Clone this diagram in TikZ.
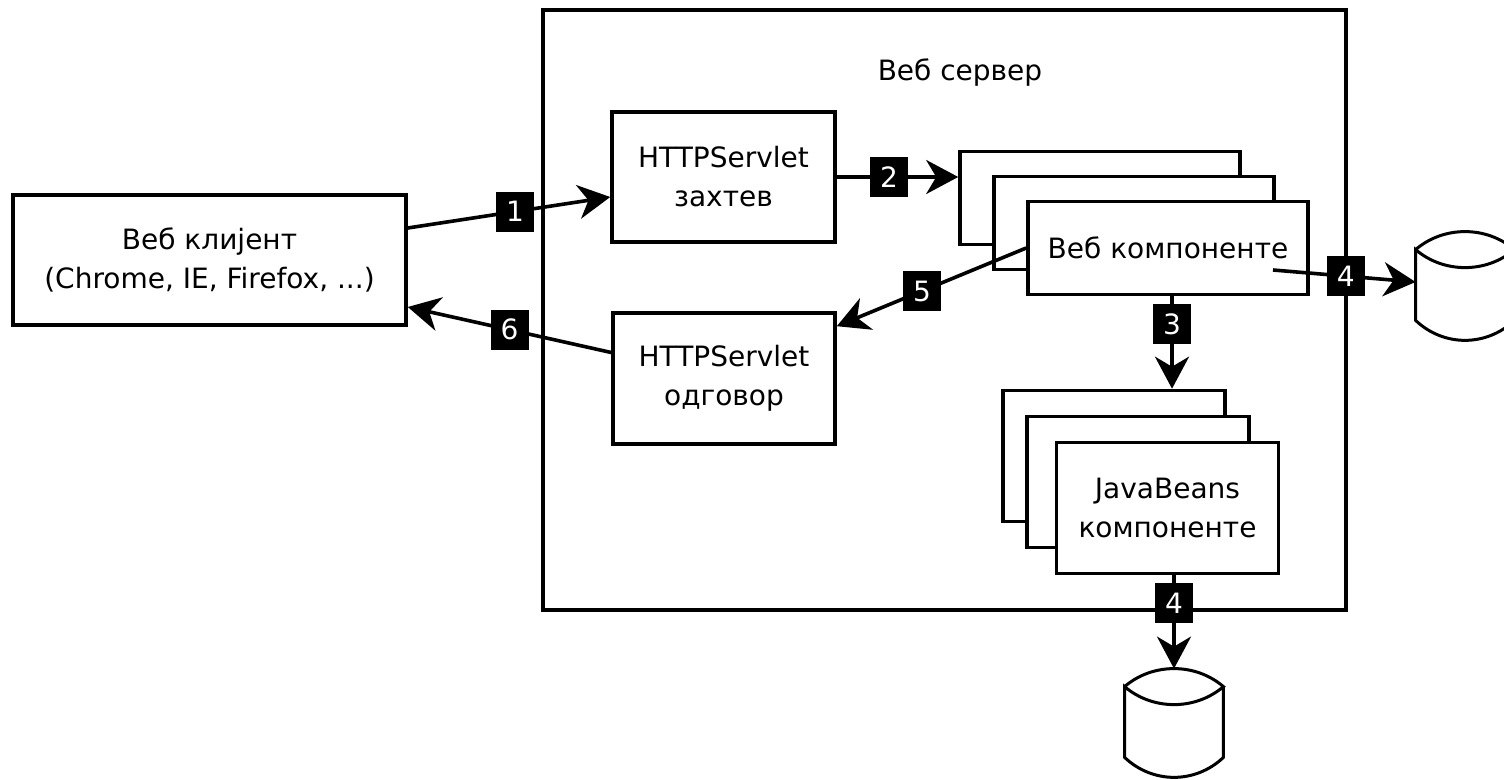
\documentclass[tikz,border=0pt]{standalone}
\usepackage{fontspec}
\setmainfont{DejaVu Sans}
\usetikzlibrary{positioning,arrows.meta,calc}

\begin{document}
\begin{tikzpicture}[x=0.5pt, y=-0.5pt,
		every node/.style={font=\fontsize{14}{19.5}\selectfont},
		box/.style={draw, fill=white, line width=1.8pt, align=center, inner sep=0pt},
		wbox/.style={box, minimum width=140pt, minimum height=46.5pt},
		jbox/.style={box, minimum width=111pt, minimum height=65.5pt},
		num/.style={fill=black, text=white, minimum width=19pt, minimum height=20pt, inner sep=0pt},
		db/.style={minimum width=49pt, minimum height=54pt, inner sep=0pt},
		conn/.style={line width=1.8pt, -{Stealth[length=16pt, width=17pt, inset=5pt]}}
		]
		\useasboundingbox (0,0) rectangle (1504,780);

		% server
		\node[box, minimum width=401.5pt, minimum height=300pt] (S) at (944.5,310) {};
		\node (SL) at (960,73) {Веб сервер};

		\node[box, minimum width=196.5pt, minimum height=65pt] (C) at (209.5,260) {Веб клијент\\(Chrome, IE, Firefox, ...)};
		\node[box, minimum width=111.5pt, minimum height=65pt] (Req) at (723.5,177) {HTTPServlet\\захтев};
		\node[box, minimum width=111pt, minimum height=65.5pt] (Res) at (724,378.5) {HTTPServlet\\одговор};

		% web components
		\node[wbox] (WA) at (1100,198) {};
		\node[wbox] (WB) at (1134,223) {};
		\node[wbox] (WC) at (1168,248) {Веб компоненте};

		% javabeans
		\node[jbox] (JA) at (1114,456) {};
		\node[jbox] (JB) at (1138,482) {};
		\node[jbox] (JC) at (1167.5,508) {JavaBeans\\компоненте};

		% databases
		\node[db] (DR) at (1465,286) {};
		\node[db] (DB) at (1174,723) {};
		\foreach \d in {DR,DB}
			\draw[line width=1.5pt, line join=miter] ([yshift=-9pt]\d.north west) .. controls +(14pt,12pt) and +(-14pt,12pt) .. ([yshift=-9pt]\d.north east)
				.. controls +(-14pt,-12pt) and +(14pt,-12pt) .. ([yshift=-9pt]\d.north west)
				-- ([yshift=10pt]\d.south west) .. controls +(14pt,-13.3pt) and +(-14pt,-13.3pt) .. ([yshift=10pt]\d.south east)
				-- ([yshift=-9pt]\d.north east);

		\coordinate (W4) at (1273,270);

		\draw[conn] ([yshift=16pt]C.east) -- node[num, pos=.53] {1} ([yshift=-10pt]Req.west);
		\draw[conn] (Req.east) -- node[num, pos=.43] {2} (Req.east -| WA.west);
		\draw[conn] ([xshift=2pt]WC.south) -- node[num, pos=.3] {3} ([xshift=2pt]WC.south |- JA.north);
		\draw[conn] (W4) -- node[num, pos=.51] {4} ([yshift=2pt]DR.west);
		\draw[conn] (JC.south -| DB.north) -- node[num, pos=.3] {4} (DB.north);
		\draw[conn] (WC.west) -- node[num, pos=.55] {5} ([yshift=-7.5pt]Res.north east);
		\draw[conn] ([yshift=13pt]Res.west) -- node[num, pos=.5] {6} ([yshift=-23.5pt]C.east);
	\end{tikzpicture}
\end{document}
